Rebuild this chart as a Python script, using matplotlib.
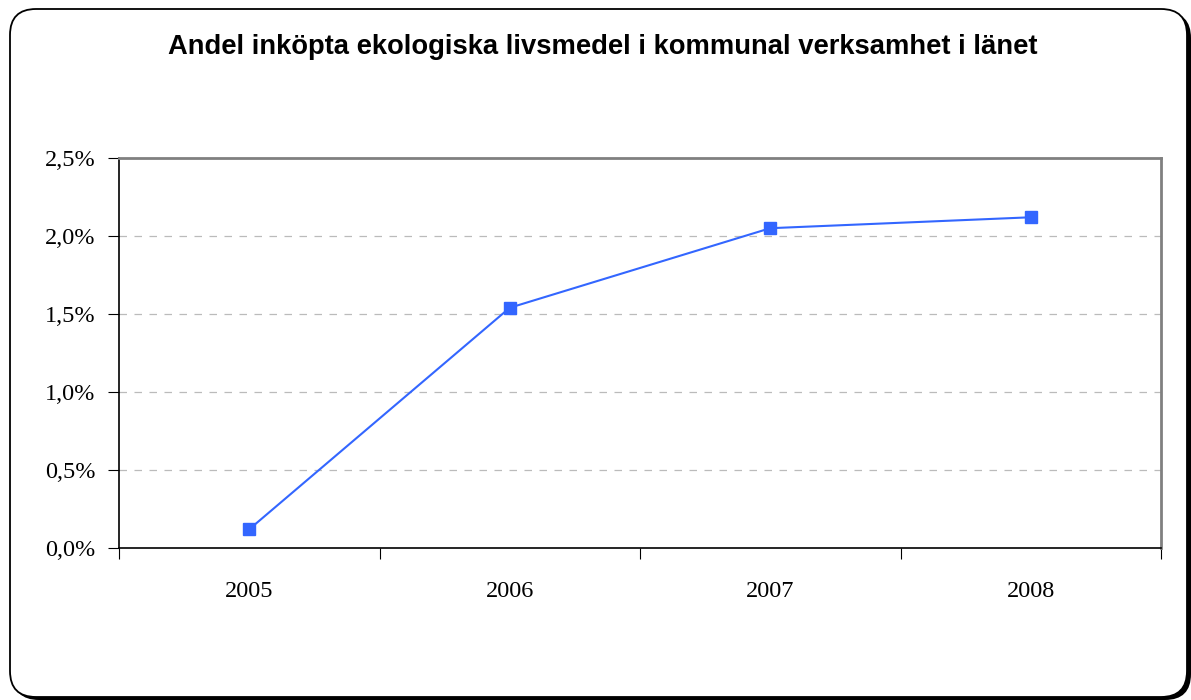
import matplotlib
matplotlib.use("Agg")
import matplotlib.pyplot as plt
from matplotlib.patches import FancyBboxPatch
from matplotlib.ticker import FuncFormatter

# data
years = ["2005", "2006", "2007", "2008"]
share = [0.12, 1.54, 2.05, 2.12]  # percent
yticks = [0.0, 0.5, 1.0, 1.5, 2.0, 2.5]
title = "Andel inköpta ekologiska livsmedel i kommunal verksamhet i länet"

W, H = 1191, 700
fig = plt.figure(figsize=(W / 100, H / 100), dpi=100)

# rounded outer frame with a little shadow (pixel coords)
shadow = FancyBboxPatch((13, 0), 1178, 688, boxstyle="round,pad=0,rounding_size=26",
                        transform=None, facecolor="black", edgecolor="none", zorder=0)
frame = FancyBboxPatch((10, 3), 1177, 688, boxstyle="round,pad=0,rounding_size=26",
                       transform=None, facecolor="white", edgecolor="black", linewidth=1.3, zorder=1)
fig.patches.append(shadow)
fig.patches.append(frame)

ax = fig.add_axes([119 / W, 152 / H, 1042 / W, 390 / H])
ax.set_zorder(2)
ax.patch.set_facecolor("white")

x = [i + 0.5 for i in range(len(years))]
ax.plot(x, share, color="#3366ff", linewidth=1.5, marker="s", markersize=8,
        markerfacecolor="#3366ff", markeredgecolor="#3366ff")

ax.set_xlim(0, len(years))
ax.set_ylim(0, 2.5)
ax.set_yticks(yticks)
ax.yaxis.set_major_formatter(FuncFormatter(lambda v, p: ("%.1f%%" % v).replace(".", ",")))
ax.set_xticks(range(len(years) + 1))
ax.set_xticklabels([])
ax.set_xticks(x, minor=True)
ax.set_xticklabels(years, minor=True)
ax.tick_params(axis="x", which="minor", length=0, pad=24)
ax.tick_params(axis="x", which="major", length=8, direction="out", color="black")
ax.tick_params(axis="y", length=8, direction="out", pad=9)
for lab in ax.get_yticklabels() + ax.get_xticklabels(minor=True):
    lab.set_fontfamily("Liberation Serif")
    lab.set_fontsize(17.5)

for v in yticks[1:-1]:
    ax.axhline(v, color="#bbbbbb", linestyle=(0, (6, 6)), linewidth=0.9, zorder=0)

ax.spines["left"].set_color("black")
ax.spines["bottom"].set_color("black")
ax.spines["top"].set_color("#808080")
ax.spines["right"].set_color("#808080")
for s in ax.spines.values():
    s.set_linewidth(1.2)
ax.spines["top"].set_linewidth(2)
ax.spines["right"].set_linewidth(2)

fig.text((165 + 1040) / 2 / W, 1 - 54 / H, title, ha="center", va="baseline",
         fontsize=19.7, fontweight="bold", family="Liberation Sans")

fig.savefig("out.png", dpi=100)
